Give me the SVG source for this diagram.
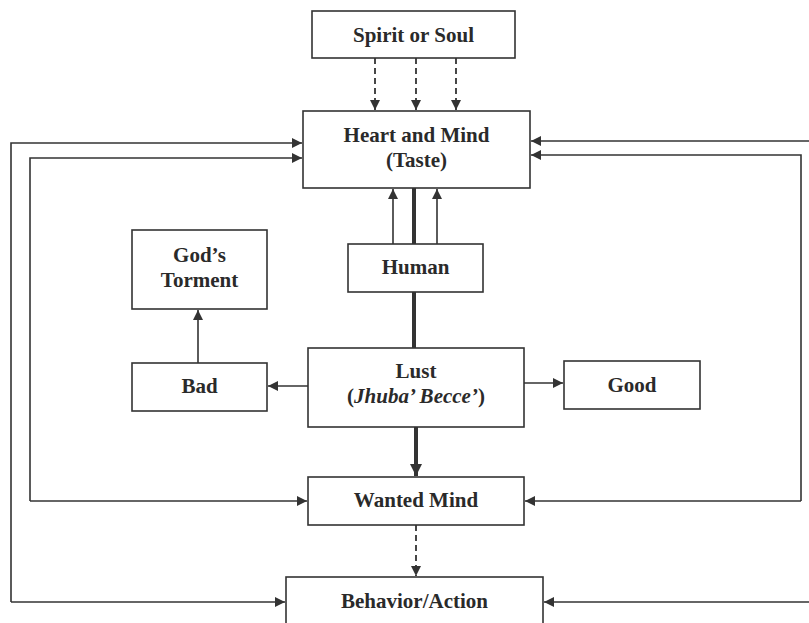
<svg xmlns="http://www.w3.org/2000/svg" width="809" height="623" viewBox="0 0 809 623">
<defs>
<style>
.box{fill:#fff;stroke:#333;stroke-width:1.6}
.t{font-family:"Liberation Serif","Times New Roman",serif;font-weight:bold;font-size:21px;fill:#2a2a2a;text-anchor:middle}
.c{fill:none;stroke:#333;stroke-width:1.6}
.d{fill:none;stroke:#333;stroke-width:1.8;stroke-dasharray:6,4}
.th{fill:none;stroke:#333;stroke-width:4}
</style>
<marker id="a" viewBox="0 0 10 10" refX="10" refY="5" markerWidth="10" markerHeight="10" markerUnits="userSpaceOnUse" orient="auto">
<path d="M0,0 L10,5 L0,10 z" fill="#333"/>
</marker>
<marker id="ab" viewBox="0 0 10 10" refX="10" refY="5" markerWidth="12" markerHeight="12" markerUnits="userSpaceOnUse" orient="auto">
<path d="M0,0 L10,5 L0,10 z" fill="#333"/>
</marker>
</defs>
<rect width="809" height="623" fill="#fff"/>
<g id="connectors">
<line class="d" x1="375" y1="58" x2="375" y2="110" marker-end="url(#a)"/>
<line class="d" x1="416" y1="58" x2="416" y2="110" marker-end="url(#a)"/>
<line class="d" x1="456" y1="58" x2="456" y2="110" marker-end="url(#a)"/>
<polyline class="c" points="11,602 11,143 302,143" marker-end="url(#a)"/>
<polyline class="c" points="30,501 30,158 302,158" marker-end="url(#a)"/>
<line class="c" x1="30" y1="501" x2="307" y2="501" marker-end="url(#a)"/>
<line class="c" x1="11" y1="602" x2="285" y2="602" marker-end="url(#a)"/>
<line class="c" x1="809" y1="141" x2="531" y2="141" marker-end="url(#a)"/>
<polyline class="c" points="801,501 801,155 531,155" marker-end="url(#a)"/>
<line class="c" x1="801" y1="501" x2="525" y2="501" marker-end="url(#a)"/>
<line class="c" x1="809" y1="602" x2="544" y2="602" marker-end="url(#a)"/>
<line class="th" x1="414" y1="188" x2="414" y2="348"/>
<line class="c" x1="393" y1="244" x2="393" y2="189" marker-end="url(#a)"/>
<line class="c" x1="437" y1="244" x2="437" y2="189" marker-end="url(#a)"/>
<line class="c" x1="308" y1="386" x2="268" y2="386" marker-end="url(#a)"/>
<line class="c" x1="524" y1="383" x2="563" y2="383" marker-end="url(#a)"/>
<line class="c" x1="198" y1="363" x2="198" y2="310" marker-end="url(#a)"/>
<line class="th" x1="416" y1="427" x2="416" y2="476" marker-end="url(#ab)"/>
<line class="d" x1="416" y1="525" x2="416" y2="576" marker-end="url(#a)"/>
</g>
<g id="spirit"><rect class="box" x="312" y="11" width="203" height="47"/><text class="t" x="413.5" y="42">Spirit or Soul</text></g>
<g id="heart"><rect class="box" x="303" y="111" width="227" height="77"/><text class="t" x="416.5" y="142">Heart and Mind</text><text class="t" x="416.5" y="167">(Taste)</text></g>
<g id="human"><rect class="box" x="348" y="244" width="135" height="48"/><text class="t" x="415.5" y="274">Human</text></g>
<g id="torment"><rect class="box" x="132" y="230" width="135" height="79"/><text class="t" x="199.5" y="262">God’s</text><text class="t" x="199.5" y="287">Torment</text></g>
<g id="bad"><rect class="box" x="132" y="363" width="135" height="48"/><text class="t" x="199.5" y="393">Bad</text></g>
<g id="lust"><rect class="box" x="308" y="348" width="216" height="79"/><text class="t" x="416" y="378">Lust</text><text class="t" x="416" y="403">(<tspan font-style="italic">Jhuba’ Becce’</tspan>)</text></g>
<g id="good"><rect class="box" x="564" y="361" width="136" height="48"/><text class="t" x="632" y="392">Good</text></g>
<g id="wanted"><rect class="box" x="308" y="477" width="216" height="48"/><text class="t" x="416" y="507">Wanted Mind</text></g>
<g id="behavior"><rect class="box" x="286" y="577" width="257" height="56"/><text class="t" x="414.5" y="608">Behavior/Action</text></g>
</svg>
